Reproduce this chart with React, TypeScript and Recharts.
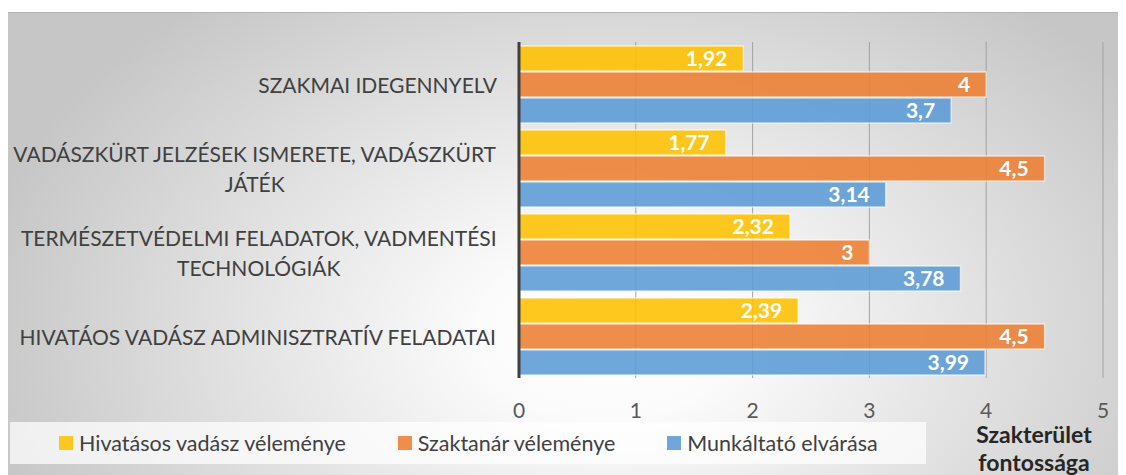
import {
  Bar,
  BarChart,
  CartesianGrid,
  LabelList,
  Legend,
  XAxis,
  YAxis,
} from 'recharts';

const categories = [
  'SZAKMAI IDEGENNYELV',
  'VADÁSZKÜRT JELZÉSEK ISMERETE, VADÁSZKÜRT\nJÁTÉK',
  'TERMÉSZETVÉDELMI FELADATOK, VADMENTÉSI\nTECHNOLÓGIÁK',
  'HIVATÁOS VADÁSZ ADMINISZTRATÍV FELADATAI',
];
const hivatasos = [1.92, 1.77, 2.32, 2.39];
const szaktanar = [4, 4.5, 3, 4.5];
const munkaltato = [3.7, 3.14, 3.78, 3.99];
const xTicks = [0, 1, 2, 3, 4, 5];

const seriesNames = [
  'Hivatásos vadász véleménye',
  'Szaktanár véleménye',
  'Munkáltató elvárása',
];
const seriesColors = ['#FFC000', '#ED7D31', '#5B9BD5'];
const titleLines = ['Szakterület', 'fontossága'];

const data = categories.map((name, i) => ({
  name,
  hivatasos: hivatasos[i],
  szaktanar: szaktanar[i],
  munkaltato: munkaltato[i],
}));
const keys = ['hivatasos', 'szaktanar', 'munkaltato'];

const FONT = 'Lato, "Open Sans", sans-serif';

// szélesség mérése canvas-szal a többsoros címkék középre igazításához
let measureCtx: CanvasRenderingContext2D | null = null;
const textWidth = (s: string, size: number) => {
  if (!measureCtx) measureCtx = document.createElement('canvas').getContext('2d');
  if (!measureCtx) return s.length * size * 0.55;
  measureCtx.font = `${size}px Lato`;
  return measureCtx.measureText(s).width;
};

const CategoryTick = (props: any) => {
  const { x, y, payload } = props;
  const lines = String(payload.value).split('\n');
  const size = 21;
  const maxW = Math.max(...lines.map((l) => textWidth(l, size)));
  const cx = x - maxW / 2;
  const lh = 30;
  const startY = y - ((lines.length - 1) * lh) / 2;
  return (
    <text
      fill="#404040"
      fontSize={size}
      fontFamily={FONT}
      textAnchor="middle"
      dominantBaseline="central"
    >
      {lines.map((l, i) => (
        <tspan key={i} x={cx} y={startY + i * lh}>
          {l}
        </tspan>
      ))}
    </text>
  );
};

const fmt = (v: any) => String(v).replace('.', ',');

const renderLegend = () => (
  <div
    style={{
      display: 'flex',
      alignItems: 'center',
      height: 42,
      paddingLeft: 49,
      gap: 52,
      background: 'rgba(255,255,255,0.72)',
      fontFamily: FONT,
      fontSize: 21.5,
      color: '#404040',
    }}
  >
    {seriesNames.map((n, i) => (
      <div key={n} style={{ display: 'flex', alignItems: 'center' }}>
        <span
          style={{
            width: 14,
            height: 14,
            background: seriesColors[i],
            opacity: 0.88,
            marginRight: 6,
            display: 'inline-block',
          }}
        />
        {n}
      </div>
    ))}
  </div>
);

export default function App() {
  return (
    <div style={{ position: 'relative', width: 1118, height: 467 }}>
      <div
        style={{
          position: 'absolute',
          left: -1,
          top: 4,
          width: 1119,
          height: 463,
          borderTop: '1px solid #b4b4b4',
          background:
            'radial-gradient(ellipse 640px 430px at 600px 320px, #ffffff 0%, #fbfbfb 20%, #c6c6c6 100%)',
        }}
      />
      <BarChart
        width={1118}
        height={467}
        data={data}
        layout="vertical"
        margin={{ top: 34, right: 23, left: 0, bottom: 0 }}
        barSize={25}
        barGap={1}
        style={{ position: 'absolute', left: 0, top: 0 }}
      >
        <CartesianGrid horizontal={false} stroke="#a3a3a3" />
        <XAxis
          type="number"
          domain={[0, 5]}
          ticks={xTicks}
          height={97}
          axisLine={false}
          tickLine={false}
          tickSize={0}
          tickMargin={25}
          tick={{ fill: '#595959', fontSize: 21, fontFamily: FONT }}
        />
        <YAxis
          type="category"
          dataKey="name"
          width={511}
          axisLine={{ stroke: '#404040', strokeWidth: 3 }}
          tickLine={false}
          tickSize={0}
          tickMargin={22}
          tick={<CategoryTick />}
        />
        <Legend
          layout="horizontal"
          verticalAlign="middle"
          align="center"
          wrapperStyle={{ top: 414, left: 2, width: 916, height: 42 }}
          content={renderLegend}
        />
        {keys.map((k, i) => (
          <Bar
            key={k}
            dataKey={k}
            name={seriesNames[i]}
            fill={seriesColors[i]}
            fillOpacity={0.88}
            stroke="#ffffff"
            strokeOpacity={0.6}
            strokeWidth={1.5}
            isAnimationActive={false}
          >
            <LabelList
              dataKey={k}
              position="insideRight"
              offset={16}
              formatter={fmt}
              fill="#ffffff"
              fontSize={21}
              fontWeight="bold"
              fontFamily={FONT}
            />
          </Bar>
        ))}
      </BarChart>
      <div
        style={{
          position: 'absolute',
          left: 956,
          top: 412,
          width: 140,
          textAlign: 'center',
          fontFamily: FONT,
          fontWeight: 'bold',
          fontSize: 23,
          lineHeight: '28px',
          color: '#262626',
        }}
      >
        {titleLines.map((t) => (
          <div key={t}>{t}</div>
        ))}
      </div>
    </div>
  );
}
